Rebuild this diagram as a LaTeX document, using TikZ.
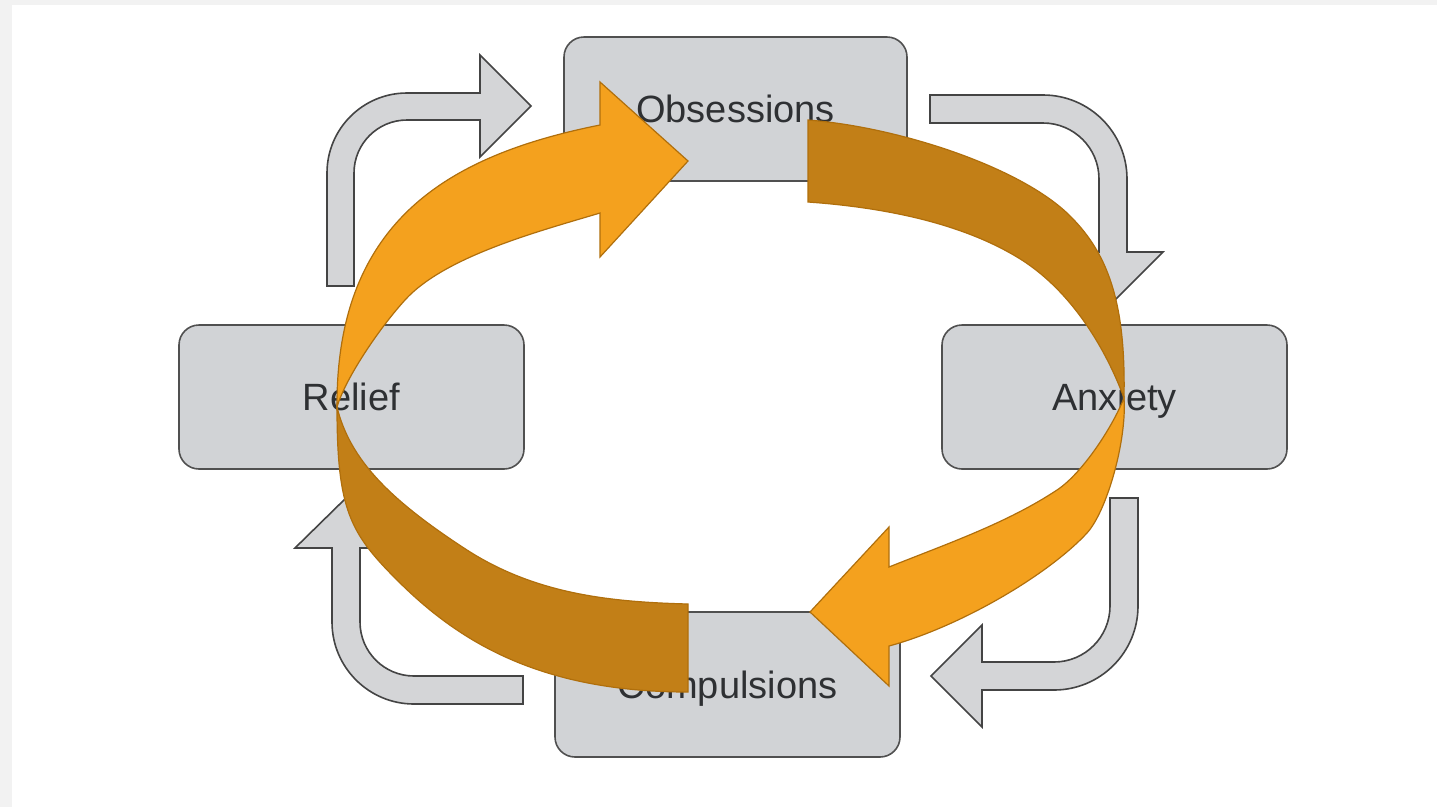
\documentclass[tikz,border=0pt]{standalone}
\usepackage{fontspec}
\setmainfont{Liberation Sans}
\definecolor{pagegray}{HTML}{F2F2F2}
\definecolor{boxfill}{HTML}{D1D3D6}
\definecolor{boxline}{HTML}{505050}
\definecolor{arrfill}{HTML}{D4D5D7}
\definecolor{arrline}{HTML}{444444}
\definecolor{lightor}{HTML}{F4A11E}
\definecolor{darkor}{HTML}{C27F17}
\definecolor{orline}{HTML}{B06F0C}
\definecolor{txtgray}{HTML}{2E3033}
\tikzset{
  stagebox/.style={draw=boxline, line width=1.6pt, fill=boxfill, rounded corners=20pt,
    font=\fontsize{38}{44}\selectfont, text=txtgray, text height=27pt, text depth=0pt},
  grayarrow/.style={draw=arrline, line width=1.6pt, fill=arrfill, line join=miter},
  lightband/.style={draw=orline, line width=1.2pt, fill=lightor, line join=miter},
  darkband/.style={draw=orline, line width=1.2pt, fill=darkor, line join=miter}
}
\begin{document}
\begin{tikzpicture}[x=1pt, y=-1pt]
\useasboundingbox (0,0) rectangle (1437,807);
\fill[pagegray] (0,0) rectangle (1437,807);
\fill[white] (12,5) rectangle (1437,807);

% boxes
\node[stagebox, minimum width=343pt, minimum height=144pt] (obs) at (735.5,109) {Obsessions};
\node[stagebox, minimum width=345pt, minimum height=144pt] (rel) at (351.5,397) {Relief};
\node[stagebox, minimum width=345pt, minimum height=144pt] (anx) at (1114.5,397) {Anxiety};
\node[stagebox, minimum width=345pt, minimum height=145pt] (com) at (727.5,684.5) {Compulsions};

% gray bent arrows
% Relief -> Obsessions
\draw[grayarrow] (327,286) -- (327,173) arc[start angle=180, end angle=270, radius=80]
  -- (480,93) -- (480,55) -- (531,106) -- (480,157) -- (480,120) -- (407,120)
  arc[start angle=270, end angle=180, radius=53] -- (354,286) -- cycle;
% Obsessions -> Anxiety
\draw[grayarrow] (930,95) -- (1043,95) arc[start angle=270, end angle=360, radius=84]
  -- (1127,252) -- (1163,252) -- (1113,302) -- (1063,252) -- (1099,252) -- (1099,179)
  arc[start angle=0, end angle=-90, radius=56] -- (930,123) -- cycle;
% Anxiety -> Compulsions
\draw[grayarrow] (1110,498) -- (1138,498) -- (1138,606) arc[start angle=0, end angle=90, radius=84]
  -- (982,690) -- (982,727) -- (931,676) -- (982,625) -- (982,662) -- (1054,662)
  arc[start angle=90, end angle=0, radius=56] -- cycle;
% Compulsions -> Relief
\draw[grayarrow] (523,704) -- (414,704) arc[start angle=90, end angle=180, radius=82]
  -- (332,548) -- (295,548) -- (346,498) -- (397,548) -- (360,548) -- (360,622)
  arc[start angle=180, end angle=90, radius=54] -- (523,676) -- cycle;

% left orange arrow (Compulsions side -> Obsessions)
\coordinate (L) at (337,407);
\filldraw[darkband] (688,604) -- (688,692)
  .. controls (538,692) and (457,640) .. (397,580)
  .. controls (350,533) and (337,510) .. (L)
  .. controls (350,460) and (390,500) .. (467,550)
  .. controls (537,595) and (613,602) .. (688,604)
  -- cycle;
\filldraw[lightband] (600,213) -- (600,257) -- (688,161) -- (600,82) -- (600,125)
  .. controls (450,155) and (336,220) .. (L)
  .. controls (346,377) and (380,327.5) .. (405,300)
  .. controls (445,256) and (540,231) .. (600,213)
  -- cycle;

% right orange arrow (Obsessions side -> Compulsions)
\coordinate (R) at (1124,398);
\filldraw[darkband] (808,202) -- (808,120)
  .. controls (898,127) and (1017,166) .. (1067,213)
  .. controls (1107,251) and (1126,300) .. (R)
  .. controls (1110,360) and (1077,293) .. (1017,257)
  .. controls (957,221) and (878,207) .. (808,202)
  -- cycle;
\filldraw[lightband] (889,567) -- (889,527) -- (810,612) -- (889,686) -- (889,646)
  .. controls (959,627) and (1047,576) .. (1087,533)
  .. controls (1107,511) and (1127,440) .. (R)
  .. controls (1112,428) and (1082,473.5) .. (1057,490)
  .. controls (1007,523) and (949,543) .. (889,567)
  -- cycle;
\end{tikzpicture}
\end{document}
